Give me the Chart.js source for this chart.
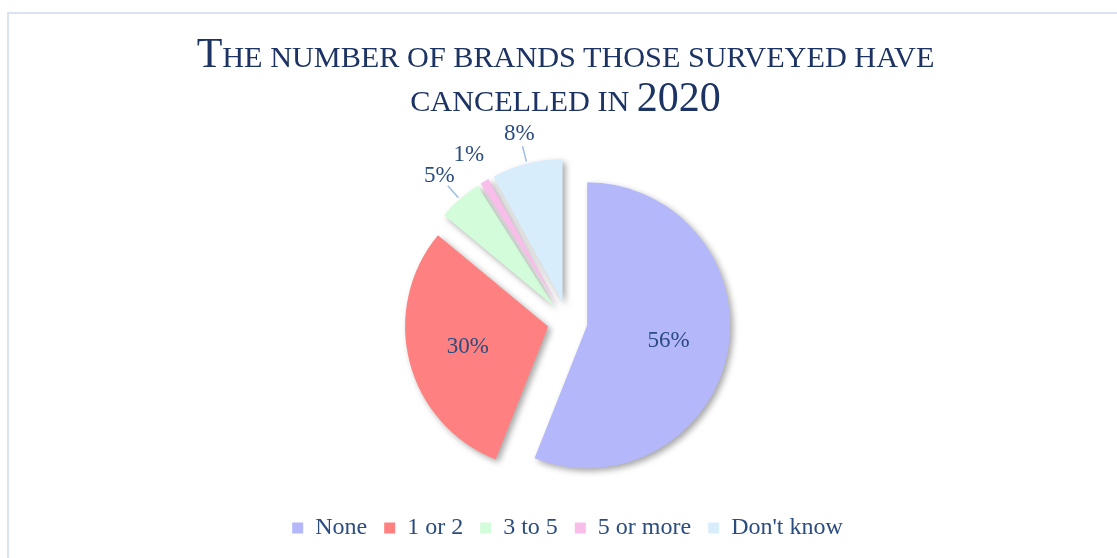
<!DOCTYPE html>
<html lang="en">
<head>
    <meta charset="UTF-8">
    <title>Brands cancelled in 2020</title>
    <script src="https://cdn.jsdelivr.net/npm/chart.js"></script>
    <style>
        html, body {
            margin: 0;
            padding: 0;
            background: #fff;
        }
        .wrap {
            position: relative;
            width: 1117px;
            height: 558px;
            overflow: hidden;
        }
        .frame {
            position: absolute;
            left: 7px;
            top: 12px;
            width: 1130px;
            height: 570px;
            border: 2px solid #dae3f3;
            box-sizing: border-box;
        }
        .title {
            position: absolute;
            left: 0;
            top: 33px;
            width: 1117px;
            padding-left: 14px;
            box-sizing: border-box;
            text-align: center;
            font-family: 'Liberation Serif', serif;
            font-size: 42px;
            line-height: 40px;
            color: #1c3363;
        }
        .title .sc {
            font-size: 0.72em;
            text-transform: uppercase;
        }
        canvas {
            position: absolute;
            left: 0;
            top: 0;
        }
    </style>
</head>
<body>
    <div class="wrap">
        <div class="frame"></div>
        <canvas id="brandsChart" width="1117" height="558"></canvas>
        <div class="title">T<span class="sc">he number of brands those surveyed have</span><br><span class="sc">cancelled in </span>2020</div>
    </div>

    <script>
        const categories = ['None', '1 or 2', '3 to 5', '5 or more', "Don't know"];
        const shares = [56, 30, 5, 1, 8];
        const sliceColors = ['#b4b8fb', '#ff8080', '#d3fcda', '#f8bee9', '#d8edfc'];

        const EXPLODE = 20;   // how far every slice is pulled out, px
        const RADIUS = 143;
        const TEXT = '#2b4c7e';

        // chart.js' own offset also grows the radius, so pull the arcs out by hand
        const explodedSlices = {
            id: 'explodedSlices',
            beforeDatasetDraw(chart, args) {
                const ctx = chart.ctx;
                ctx.save();
                ctx.shadowColor = 'rgba(0,0,0,0.35)';
                ctx.shadowBlur = 6;
                ctx.shadowOffsetX = 3;
                ctx.shadowOffsetY = 3;
                args.meta.data.forEach(arc => {
                    const mid = (arc.startAngle + arc.endAngle) / 2;
                    ctx.save();
                    ctx.translate(Math.cos(mid) * EXPLODE, Math.sin(mid) * EXPLODE);
                    arc.draw(ctx);
                    ctx.restore();
                });
                ctx.restore();
                return false;
            }
        };

        const sliceLabels = {
            id: 'sliceLabels',
            afterDatasetsDraw(chart) {
                const ctx = chart.ctx;
                const meta = chart.getDatasetMeta(0);
                ctx.save();
                ctx.font = "23px 'Liberation Serif'";
                ctx.fillStyle = TEXT;
                ctx.textAlign = 'center';
                ctx.textBaseline = 'middle';
                meta.data.forEach((arc, i) => {
                    const p = arc.getProps(['x', 'y', 'startAngle', 'endAngle', 'outerRadius'], true);
                    const mid = (p.startAngle + p.endAngle) / 2;
                    const cos = Math.cos(mid), sin = Math.sin(mid);
                    const text = shares[i] + '%';
                    if (shares[i] >= 10) {
                        const d = EXPLODE + p.outerRadius * 0.58;
                        ctx.fillText(text, p.x + cos * d, p.y + sin * d);
                        return;
                    }
                    const edge = EXPLODE + p.outerRadius;
                    if (shares[i] >= 2) {
                        ctx.strokeStyle = '#9dbde3';
                        ctx.lineWidth = 1.5;
                        ctx.beginPath();
                        ctx.moveTo(p.x + cos * (edge + 2), p.y + sin * (edge + 2));
                        ctx.lineTo(p.x + cos * (edge + 18), p.y + sin * (edge + 18));
                        ctx.stroke();
                    }
                    const d = edge + 31;
                    ctx.fillText(text, p.x + cos * d, p.y + sin * d);
                });
                ctx.restore();
            }
        };

        new Chart(document.getElementById('brandsChart'), {
            type: 'pie',
            data: {
                labels: categories,
                datasets: [{
                    data: shares,
                    backgroundColor: sliceColors,
                    borderWidth: 0,
                    radius: RADIUS,
                    clip: false
                }]
            },
            options: {
                responsive: false,
                animation: false,
                layout: {
                    padding: { left: 18, right: 0, top: 144, bottom: 8 }
                },
                plugins: {
                    legend: {
                        position: 'bottom',
                        labels: {
                            font: { family: "'Liberation Serif'", size: 24 },
                            color: TEXT,
                            boxWidth: 11,
                            boxHeight: 11,
                            padding: 17
                        }
                    },
                    tooltip: { enabled: false }
                }
            },
            plugins: [explodedSlices, sliceLabels]
        });
    </script>
</body>
</html>
